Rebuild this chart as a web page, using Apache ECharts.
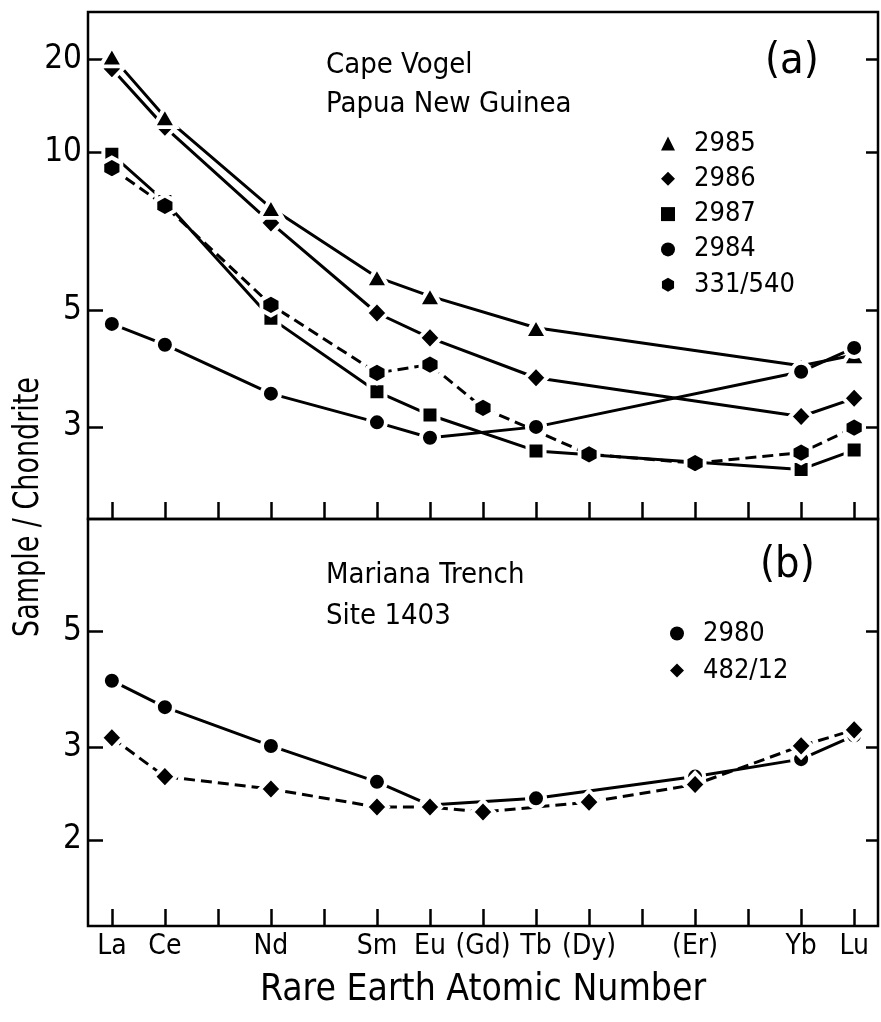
<!DOCTYPE html>
<html><head><meta charset="utf-8">
<script src="https://cdn.jsdelivr.net/npm/echarts@6/dist/echarts.min.js"></script>
<style>html,body{margin:0;padding:0;background:#fff}#c{width:881px;height:1022px}</style>
</head><body><div id="c"></div>
<script>
// ---------- data ----------
const elements = ['La','Ce','Pr','Nd','Pm','Sm','Eu','Gd','Tb','Dy','Ho','Er','Tm','Yb','Lu'];
const atomicNumbers = [57,58,59,60,61,62,63,64,65,66,67,68,69,70,71];
const xTickLabels = ['La','Ce','','Nd','','Sm','Eu','(Gd)','Tb','(Dy)','','(Er)','','Yb','Lu'];

const yTicksA = [3, 5, 10, 15];
const yTickLabelsA = ['3', '5', '10', '20'];
const yTicksB = [2, 3, 5];
const yTickLabelsB = ['2', '3', '5'];

// panel (a) Cape Vogel, Papua New Guinea
const s2985 = [15.2, 11.65, null, 7.83, null, 5.78, 5.32, null, 4.63, null, null, null, null, 3.92, 4.11];
const s2986 = [14.4, 11.15, null, 7.33, null, 4.94, 4.43, null, 3.72, null, null, null, null, 3.14, 3.40];
const s2987 = [9.9, 8.05, null, 4.83, null, 3.50, 3.16, null, 2.70, null, null, null, null, 2.49, 2.71];
const s2984 = [4.71, 4.30, null, 3.47, null, 3.06, 2.86, null, 3.00, null, null, null, null, 3.82, 4.24];
const s331540 = [9.32, 7.9, null, 5.12, null, 3.80, 3.94, 3.26, null, 2.66, null, 2.56, null, 2.68, 2.99];
// panel (b) Mariana Trench, Site 1403
const s2980 = [4.02, 3.58, null, 3.02, null, 2.58, 2.33, null, 2.40, null, null, 2.64, null, 2.85, 3.16];
const s48212 = [3.13, 2.64, null, 2.50, null, 2.31, 2.31, 2.26, null, 2.36, null, 2.55, null, 3.02, 3.24];

// ---------- chart ----------
const FONT = '"DejaVu Sans Condensed", "DejaVu Sans", sans-serif';
const HEX = 'path://M0,-1L0.866,-0.5L0.866,0.5L0,1L-0.866,0.5L-0.866,-0.5Z';
const GAP = 4;

function pairs(arr) {
  return atomicNumbers.map((n, i) => [n, arr[i]]);
}
function mkSeries(name, arr, sym, size, dashed, gi) {
  return {
    name, type: 'line', xAxisIndex: gi, yAxisIndex: gi * 2,
    data: pairs(arr), connectNulls: true,
    symbol: sym, symbolSize: size, symbolKeepAspect: false,
    lineStyle: { color: '#000', width: 3, type: dashed ? [11, 6] : 'solid' },
    itemStyle: { color: '#000', borderColor: '#fff', borderWidth: GAP },
    emphasis: { disabled: true }, animation: false
  };
}

const xBase = (gi, showLabels) => ({
  type: 'value', gridIndex: gi, min: 56.55, max: 71.45,
  axisLine: { show: false }, splitLine: { show: false },
  axisTick: { show: true, inside: true, length: 17, customValues: atomicNumbers,
    lineStyle: { color: '#000', width: 2.5 } },
  axisLabel: { show: showLabels, customValues: atomicNumbers, margin: 7,
    formatter: v => xTickLabels[atomicNumbers.indexOf(Math.round(v))] || '',
    color: '#000', fontSize: 28, fontFamily: FONT },
});
const yBase = (gi, pos, ticks, labels, min, max, showLabels) => ({
  type: 'log', logBase: 10, gridIndex: gi, position: pos, min, max,
  axisLine: { show: false }, splitLine: { show: false }, minorTick: { show: false },
  axisTick: { show: true, inside: true, length: pos === 'left' ? 15 : 12, customValues: ticks,
    lineStyle: { color: '#000', width: 2.5 } },
  axisLabel: { show: showLabels, customValues: ticks, margin: 6,
    formatter: v => { const i = ticks.findIndex(t => Math.abs(t - v) < 1e-6); return i >= 0 ? labels[i] : ''; },
    color: '#000', fontSize: 33, fontFamily: FONT },
});

const legendText = { color: '#000', fontSize: 27, fontFamily: FONT, lineHeight: 24, padding: [0, 0, 0, 14] };

const option = {
  backgroundColor: '#fff',
  animation: false,
  textStyle: { fontFamily: FONT, color: '#000' },
  grid: [
    { left: 88, right: 3, top: 12, height: 507, show: true, borderColor: '#000', borderWidth: 2.5,
      backgroundColor: 'transparent', containLabel: false, outerBoundsMode: 'none' },
    { left: 88, right: 3, top: 519, height: 407, show: true, borderColor: '#000', borderWidth: 2.5,
      backgroundColor: 'transparent', containLabel: false, outerBoundsMode: 'none' }
  ],
  xAxis: [
    xBase(0, false),
    Object.assign(xBase(1, true), {
      name: 'Rare Earth Atomic Number', nameLocation: 'middle', nameGap: 46,
      nameTextStyle: { color: '#000', fontSize: 37, fontFamily: FONT }
    })
  ],
  yAxis: [
    yBase(0, 'left', yTicksA, yTickLabelsA, 2.004, 18.46, true),
    yBase(0, 'right', yTicksA, yTickLabelsA, 2.004, 18.46, false),
    yBase(1, 'left', yTicksB, yTickLabelsB, 1.371, 8.17, true),
    yBase(1, 'right', yTicksB, yTickLabelsB, 1.371, 8.17, false)
  ],
  title: [
    { text: 'Cape Vogel\nPapua New Guinea', left: 326, top: 46, padding: 0,
      textStyle: { fontSize: 29, lineHeight: 39, fontWeight: 'normal', color: '#000', fontFamily: FONT } },
    { text: '(a)', left: 765, top: 40, padding: 0,
      textStyle: { fontSize: 43, fontWeight: 'normal', color: '#000', fontFamily: FONT } },
    { text: 'Mariana Trench\nSite 1403', left: 326, top: 555, padding: 0,
      textStyle: { fontSize: 29, lineHeight: 41, fontWeight: 'normal', color: '#000', fontFamily: FONT } },
    { text: '(b)', left: 760, top: 544, padding: 0,
      textStyle: { fontSize: 43, fontWeight: 'normal', color: '#000', fontFamily: FONT } }
  ],
  legend: [
    { orient: 'vertical', left: 661, top: 130, padding: 0, itemWidth: 14, itemHeight: 14, itemGap: 8.3,
      selectedMode: false, textStyle: legendText,
      itemStyle: { borderWidth: 0, color: '#000' },
      data: [ { name: '2985', icon: 'triangle' }, { name: '2986', icon: 'diamond' },
              { name: '2987', icon: 'rect' }, { name: '2984', icon: 'circle' },
              { name: '331/540', icon: HEX } ] },
    { orient: 'vertical', left: 670, top: 620, padding: 0, itemWidth: 14, itemHeight: 14, itemGap: 10,
      selectedMode: false, textStyle: legendText,
      itemStyle: { borderWidth: 0, color: '#000' },
      data: [ { name: '2980', icon: 'circle' }, { name: '482/12', icon: 'diamond' } ] }
  ],
  graphic: [
    { type: 'text', x: 29, y: 507, rotation: Math.PI / 2, scaleY: 1.2,
      style: { text: 'Sample / Chondrite', fill: '#000', fontSize: 30, fontFamily: FONT,
               align: 'center', verticalAlign: 'middle' } }
  ],
  series: [
    mkSeries('2986', s2986, 'diamond', [22, 23], false, 0),
    mkSeries('2985', s2985, 'triangle', [23, 20], false, 0),
    mkSeries('2987', s2987, 'rect', [17, 17], false, 0),
    mkSeries('2984', s2984, 'circle', [18, 18], false, 0),
    mkSeries('331/540', s331540, HEX, [19, 21], true, 0),
    mkSeries('2980', s2980, 'circle', [18, 18], false, 1),
    mkSeries('482/12', s48212, 'diamond', [22, 23], true, 1)
  ]
};

const chart = echarts.init(document.getElementById('c'), null, { renderer: 'canvas' });
chart.setOption(option);
</script>
</body></html>
